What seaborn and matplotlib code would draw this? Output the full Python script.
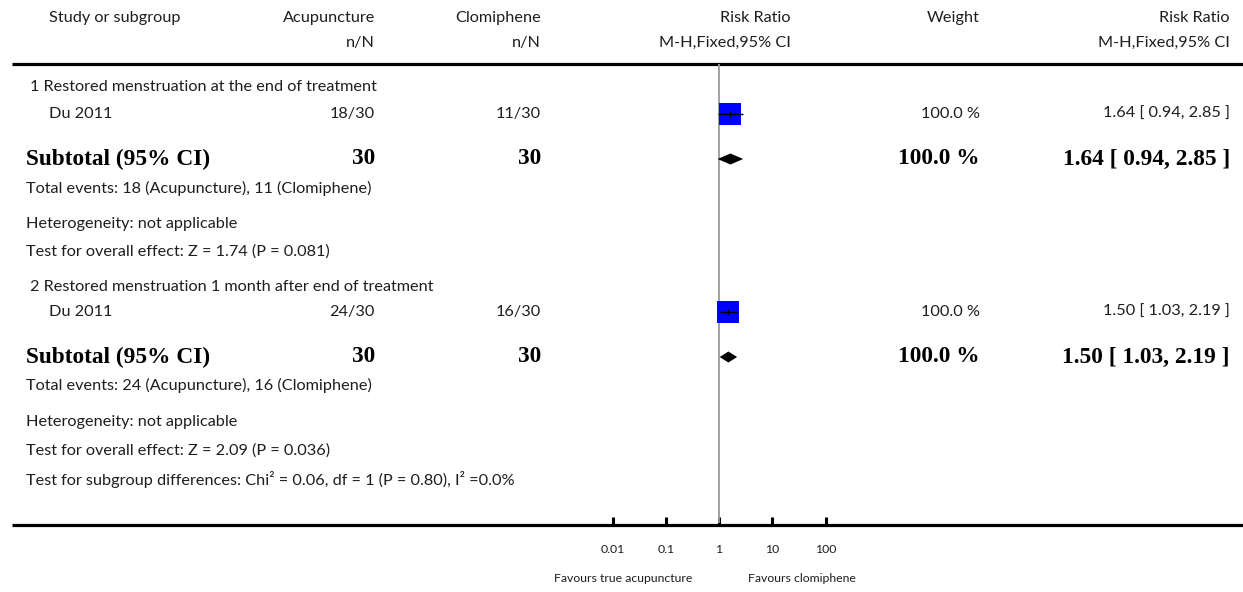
import numpy as np
import matplotlib
matplotlib.use("Agg")
import matplotlib.pyplot as plt
import seaborn as sns

# ---- data -------------------------------------------------------------
subgroups = ["1 Restored menstruation at the end of treatment",
             "2 Restored menstruation 1 month after end of treatment"]
studies = ["Du 2011", "Du 2011"]
events_acu = [18, 24]
total_acu = [30, 30]
events_clo = [11, 16]
total_clo = [30, 30]
risk_ratio = [1.64, 1.50]
ci_low = [0.94, 1.03]
ci_high = [2.85, 2.19]
weight = [100.0, 100.0]
z_values = [1.74, 2.09]
p_values = [0.081, 0.036]
subgroup_test = "Test for subgroup differences: Chi² = 0.06, df = 1 (P = 0.80), I² =0.0%"
tick_values = [0.01, 0.1, 1, 10, 100]
tick_labels = ["0.01", "0.1", "1", "10", "100"]
favours_left = "Favours true acupuncture"
favours_right = "Favours clomiphene"

# ---- style ------------------------------------------------------------
sns.set_theme(style="white")
plt.rcParams['font.family'] = ['Lato', 'DejaVu Sans']
TXT = "#1e1e1e"
REG = 11.7
BOLD = dict(family=['Liberation Serif'], fontweight='bold', fontsize=16.8)

W, H = 1243, 592
fig = plt.figure(figsize=(W / 100, H / 100), dpi=100)

# background axes in pixel coordinates for the table text and rules
bg = fig.add_axes([0, 0, 1, 1])
bg.set_xlim(0, W)
bg.set_ylim(H, 0)
bg.axis('off')

# forest-plot axes (log scale, rows share the pixel y coordinates)
x_left, x_right, x_one, per_decade = 560, 878, 719, 53.25
axis_y = 525
fa = fig.add_axes([x_left / W, (H - axis_y) / H, (x_right - x_left) / W, axis_y / H])
fa.set_xscale('log')
fa.set_xlim(10 ** (-(x_one - x_left) / per_decade), 10 ** ((x_right - x_one) / per_decade))
fa.set_ylim(axis_y, 0)
fa.patch.set_alpha(0)
fa.set_zorder(2)
for s in fa.spines.values():
    s.set_visible(False)
fa.set_yticks([])
fa.set_xticks(tick_values)
fa.set_xticklabels(tick_labels)
fa.minorticks_off()
fa.tick_params(axis='x', which='major', bottom=True, direction='in', length=5.5, width=2.2,
               color='black', labelsize=8.8, labelcolor=TXT, pad=14)

# column positions
col_study, col_sub = 49, 26
col_acu, col_clo = 375, 541
col_rrhead = 791
col_w, col_rr = 980, 1230

# header
hy1, hy2 = 18, 43
bg.text(col_study, hy1, "Study or subgroup", ha='left', va='center', fontsize=REG, color=TXT)
bg.text(col_acu, hy1, "Acupuncture", ha='right', va='center', fontsize=REG, color=TXT)
bg.text(col_clo, hy1, "Clomiphene", ha='right', va='center', fontsize=REG, color=TXT)
bg.text(col_rrhead, hy1, "Risk Ratio", ha='right', va='center', fontsize=REG, color=TXT)
bg.text(col_w, hy1, "Weight", ha='right', va='center', fontsize=REG, color=TXT)
bg.text(col_rr, hy1, "Risk Ratio", ha='right', va='center', fontsize=REG, color=TXT)
bg.text(col_acu, hy2, "n/N", ha='right', va='center', fontsize=REG, color=TXT)
bg.text(col_clo, hy2, "n/N", ha='right', va='center', fontsize=REG, color=TXT)
bg.text(col_rrhead, hy2, "M-H,Fixed,95% CI", ha='right', va='center', fontsize=REG, color=TXT)
bg.text(col_rr, hy2, "M-H,Fixed,95% CI", ha='right', va='center', fontsize=REG, color=TXT)
bg.plot([12, W], [64, 64], color='black', lw=2.3, solid_capstyle='butt')

# rows of each subgroup (pixel y)
block_rows = [dict(title=87, study=114, sub=159, tot=188, het=224, eff=252),
              dict(title=287, study=312, sub=357, tot=385, het=422, eff=451)]

study_y = [r['study'] for r in block_rows]
sub_y = [r['sub'] for r in block_rows]

for i, r in enumerate(block_rows):
    bg.text(col_sub + 4, r['title'], subgroups[i], ha='left', va='center', fontsize=REG, color=TXT)
    bg.text(col_study, r['study'], studies[i], ha='left', va='center', fontsize=REG, color=TXT)
    bg.text(col_acu, r['study'], f"{events_acu[i]}/{total_acu[i]}", ha='right', va='center',
            fontsize=REG, color=TXT)
    bg.text(col_clo, r['study'], f"{events_clo[i]}/{total_clo[i]}", ha='right', va='center',
            fontsize=REG, color=TXT)
    bg.text(col_w, r['study'], f"{weight[i]:.1f} %", ha='right', va='center', fontsize=REG, color=TXT)
    bg.text(col_rr, r['study'],
            f"{risk_ratio[i]:.2f} [ {ci_low[i]:.2f}, {ci_high[i]:.2f} ]",
            ha='right', va='center', fontsize=REG, color=TXT)

    bg.text(col_sub, r['sub'], "Subtotal (95% CI)", ha='left', va='center', color='black', **BOLD)
    bg.text(col_acu, r['sub'], f"{total_acu[i]}", ha='right', va='center', color='black', **BOLD)
    bg.text(col_clo, r['sub'], f"{total_clo[i]}", ha='right', va='center', color='black', **BOLD)
    bg.text(col_w, r['sub'], f"{weight[i]:.1f} %", ha='right', va='center', color='black', **BOLD)
    bg.text(col_rr, r['sub'],
            f"{risk_ratio[i]:.2f} [ {ci_low[i]:.2f}, {ci_high[i]:.2f} ]",
            ha='right', va='center', color='black', **BOLD)

    bg.text(col_sub, r['tot'],
            f"Total events: {events_acu[i]} (Acupuncture), {events_clo[i]} (Clomiphene)",
            ha='left', va='center', fontsize=REG, color=TXT)
    bg.text(col_sub, r['het'], "Heterogeneity: not applicable", ha='left', va='center',
            fontsize=REG, color=TXT)
    bg.text(col_sub, r['eff'], f"Test for overall effect: Z = {z_values[i]:.2f} (P = {p_values[i]})",
            ha='left', va='center', fontsize=REG, color=TXT)

bg.text(col_sub, 479, subgroup_test, ha='left', va='center', fontsize=REG, color=TXT)

# bottom rule
bg.plot([12, W], [axis_y, axis_y], color='black', lw=2.3, solid_capstyle='butt', zorder=1)

# line of no effect
fa.vlines(1, 64, axis_y - 2, color='#9a9a9a', lw=1.3, zorder=1)

# study squares and confidence intervals
sns.scatterplot(x=risk_ratio, y=study_y, marker='s', s=265, color='#0000ff',
                linewidth=0, ax=fa, legend=False, zorder=3)
fa.hlines(study_y, ci_low, ci_high, color='black', lw=1.0, zorder=4)
fa.plot(risk_ratio, study_y, linestyle='none', marker='|', markersize=4,
        color='black', markeredgewidth=0.9, zorder=4)

# pooled diamonds
half_h = 5.5
for rr, lo, hi, y in zip(risk_ratio, ci_low, ci_high, sub_y):
    fa.fill([lo, rr, hi, rr], [y, y - half_h, y, y + half_h], color='black', lw=0, zorder=4)

# favours labels
bg.text(692, 578, favours_left, ha='right', va='center', fontsize=8.8, color=TXT)
bg.text(748, 578, favours_right, ha='left', va='center', fontsize=8.8, color=TXT)

fig.savefig("out.png", dpi=100)
